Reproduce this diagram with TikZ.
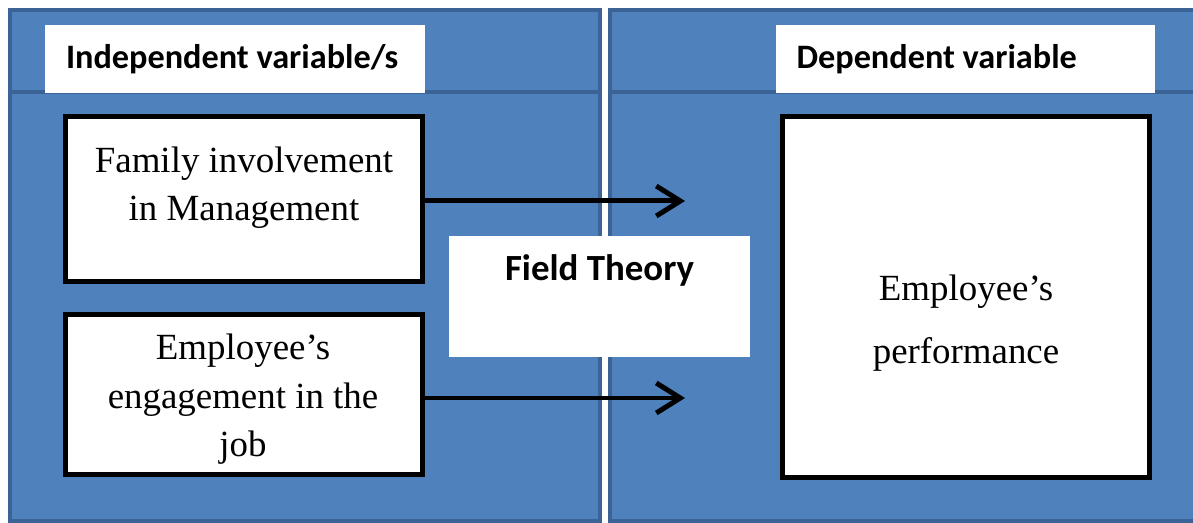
\documentclass[tikz,border=0pt]{standalone}
\usepackage{fontspec}
\setmainfont{Liberation Serif}
\newfontfamily\headfont{Carlito}
\usetikzlibrary{arrows.meta}
\definecolor{panelblue}{HTML}{4F81BD}
\definecolor{paneledge}{HTML}{3B6396}
\tikzset{
  panel/.style={fill=panelblue, draw=paneledge, line width=0.09cm},
  headbox/.style={fill=white, inner xsep=0.42cm, inner ysep=0pt, minimum height=1.36cm,
    text width=6.76cm, align=flush left, font=\headfont\bfseries\fontsize{19.5}{23}\selectfont},
  varbox/.style={draw=black, fill=white, line width=0.1cm, inner sep=0pt},
  boxtext/.style={align=center, inner sep=0pt, font=\fontsize{21}{27.6}\selectfont},
  flow/.style={line width=0.1cm, -{Straight Barb[length=0.48cm,width=0.6cm]},
    line cap=round, line join=round}
}
\begin{document}
\begin{tikzpicture}[x=0.02cm, y=-0.02cm]
  \clip (0,0) rectangle (1193,523);
  % the two panels
  \draw[panel] (10,10) rectangle (600,521);
  \draw[panel] (610,10) rectangle (1210,521);
  \draw[paneledge, line width=0.09cm] (10,92) -- (600,92);
  \draw[paneledge, line width=0.09cm] (610,92) -- (1210,92);
  % headings
  \node[headbox] (indep) at (235,59) {Independent variable/s};
  \node[headbox] (dep) at (965.5,59) {Dependent variable};
  % variables
  \node[varbox, minimum width=7.16cm, minimum height=3.32cm] (fam) at (244,199) {};
  \node[boxtext] (famtxt) at (244,187.5) {Family involvement\\in Management};
  \node[varbox, minimum width=7.16cm, minimum height=3.22cm] (eng) at (244,394.5) {};
  \node[boxtext] (engtxt) at (243,399.5) {Employee’s\\engagement in the\\job};
  \node[varbox, minimum width=7.36cm, minimum height=7.24cm] (perf) at (966,297) {};
  \node[boxtext, font=\fontsize{21}{35.9}\selectfont] (perftxt) at (966,323) {Employee’s\\performance};
  % theory in the middle
  \node[fill=white, inner sep=0pt, minimum width=6.02cm, minimum height=2.42cm,
    text height=0.5cm, text depth=1.16cm, font=\headfont\bfseries\fontsize{21}{25}\selectfont]
    (field) at (599.5,296.5) {Field Theory};
  % arrows
  \coordinate (tip1) at (685,201);
  \coordinate (tip2) at (685,398);
  \draw[flow] (fam.east |- tip1) -- (tip1);
  \draw[flow] (eng.east |- tip2) -- (tip2);
\end{tikzpicture}
\end{document}
